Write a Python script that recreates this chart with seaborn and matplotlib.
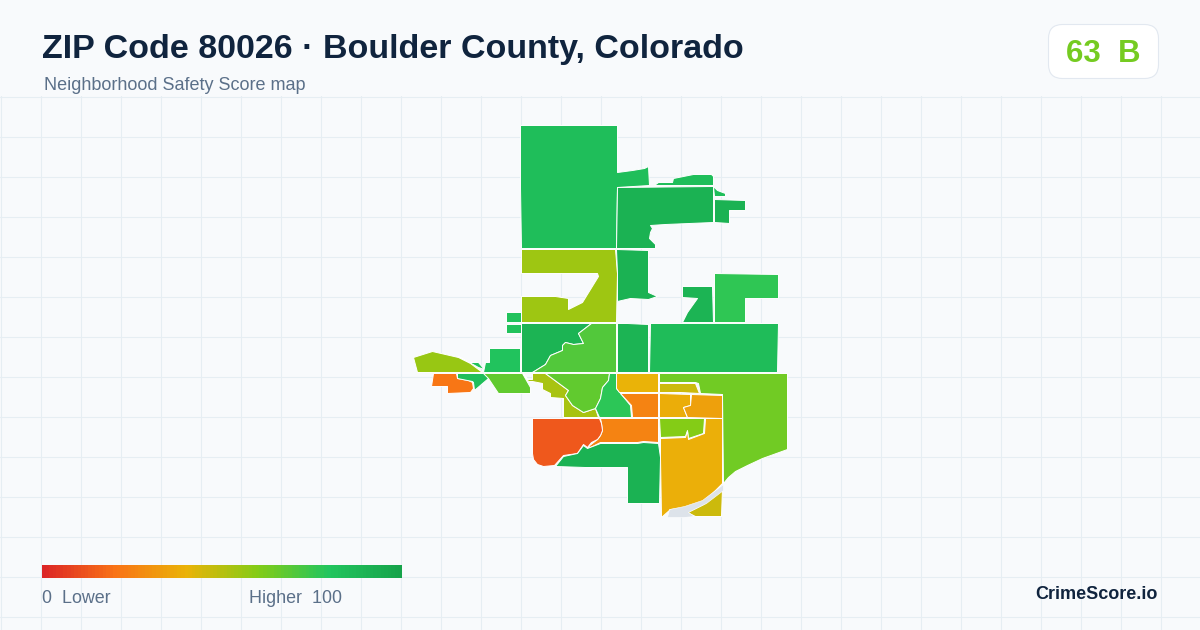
import matplotlib
matplotlib.use('Agg')
import matplotlib.pyplot as plt
import numpy as np
import pandas as pd
import seaborn as sns
from matplotlib.colors import LinearSegmentedColormap, Normalize
from matplotlib.patches import FancyBboxPatch

# scale and labels
scale_stops = [0, 20, 40, 60, 80, 100]
scale_colors = ['#dc2626', '#f97316', '#eab308', '#84cc16', '#22c55e', '#16a34a']
title = 'ZIP Code 80026 · Boulder County, Colorado'
subtitle = 'Neighborhood Safety Score map'
overall_score = 63
overall_grade = 'B'

# tract outlines (map units), one list per tract part
north_big = [(520, 125), (617, 125), (617, 172), (632, 170), (644, 168), (648, 166), (649, 185), (617, 187), (616, 248), (521, 248), (520, 187)]
north_big_b = [(654, 185), (658, 182), (672, 182), (673, 178), (693, 174), (711, 174), (713, 176), (713, 185)]
north_big_c = [(713, 186), (717, 190), (725, 193), (725, 196), (714, 196)]
north_east = [(617, 187), (713, 186), (713, 222), (665, 224), (650, 225), (652, 228), (650, 232), (649, 238), (655, 244), (655, 248), (616, 248)]
north_east_b = [(714, 199), (745, 200), (745, 210), (729, 210), (729, 223), (714, 222)]
mid_west = [(521, 249), (615, 249), (617, 273), (616, 322), (521, 322), (521, 296), (555, 296), (568, 298), (568, 309), (582, 302), (598, 276), (597, 273), (521, 273)]
mid_strip = [(616, 249), (648, 250), (648, 292), (657, 296), (648, 299), (630, 298), (617, 301), (617, 273)]
mid_east = [(714, 273), (778, 274), (778, 298), (745, 298), (745, 322), (714, 322)]
mid_hook = [(682, 286), (712, 286), (713, 322), (682, 322), (687, 312), (697, 298), (682, 297)]
west_small = [(505, 311), (520, 311), (520, 321), (505, 321)]
west_small_b = [(505, 323), (520, 323), (520, 332), (505, 332)]
central_dark = [(521, 323), (591, 323), (578, 333), (583, 343), (573, 344), (565, 342), (562, 345), (562, 350), (550, 355), (545, 364), (532, 372), (521, 372)]
central_lime = [(591, 323), (616, 323), (616, 372), (532, 372), (545, 364), (550, 355), (562, 350), (562, 345), (565, 342), (573, 344), (583, 343), (578, 333)]
central_strip = [(617, 323), (627, 323), (648, 324), (648, 372), (617, 372)]
central_east = [(650, 323), (778, 323), (777, 372), (649, 372)]
far_west = [(413, 357), (432, 351), (445, 354), (458, 357), (470, 363), (482, 372), (417, 372)]
far_west_teal = [(458, 356), (468, 362), (478, 362), (484, 369), (478, 367)]
west_block = [(489, 348), (520, 348), (520, 372), (483, 372), (485, 362), (489, 362)]
far_west_orange = [(433, 373), (456, 373), (457, 378), (468, 380), (472, 382), (473, 388), (470, 392), (447, 393), (447, 386), (431, 386)]
west_teal = [(457, 373), (486, 373), (488, 378), (474, 390), (473, 382), (472, 381), (457, 378)]
west_lime = [(483, 373), (522, 373), (530, 387), (530, 393), (498, 393), (488, 378)]
olive_strip = [(523, 373), (527, 379), (532, 379), (532, 373), (545, 373), (568, 390), (565, 395), (572, 405), (583, 412), (595, 408), (598, 417), (563, 417), (563, 398), (550, 397), (550, 393), (542, 389), (542, 383), (532, 381), (528, 381)]
south_lime = [(545, 373), (609, 373), (608, 380), (602, 387), (600, 398), (595, 408), (583, 412), (572, 405), (565, 395), (568, 390)]
south_green = [(609, 373), (616, 373), (616, 388), (630, 405), (631, 417), (599, 417), (595, 408), (600, 398), (602, 387), (608, 380)]
amber_north = [(616, 373), (658, 373), (658, 392), (619, 392), (616, 388)]
orange_north = [(620, 393), (658, 393), (658, 417), (632, 417), (631, 405)]
east_big = [(659, 373), (787, 373), (787, 449), (762, 458), (747, 465), (735, 471), (728, 477), (723, 483), (722, 394), (700, 393), (698, 383), (695, 382), (659, 382)]
olive_north = [(659, 383), (695, 383), (699, 393), (680, 392), (659, 392)]
amber_mid = [(659, 393), (690, 394), (690, 405), (683, 407), (687, 417), (659, 417)]
amber_east = [(691, 394), (722, 395), (722, 418), (687, 417), (683, 407), (690, 405)]
orange_south = [(600, 418), (658, 418), (658, 442), (643, 441), (637, 442), (623, 442), (610, 442), (600, 442), (590, 447), (588, 446), (597, 439), (600, 435), (602, 430), (601, 423)]
red_south = [(532, 418), (599, 418), (601, 423), (602, 430), (600, 435), (597, 439), (591, 442), (587, 447), (583, 444), (577, 453), (563, 455), (554, 465), (543, 466), (537, 464), (533, 459), (532, 453)]
south_dark = [(555, 466), (563, 456), (577, 453), (583, 445), (587, 448), (600, 443), (610, 443), (623, 443), (637, 443), (643, 442), (658, 443), (660, 457), (659, 503), (627, 503), (627, 467), (585, 467)]
lime_south = [(659, 418), (704, 418), (703, 433), (688, 438), (687, 430), (685, 436), (660, 437)]
amber_south = [(660, 438), (685, 437), (687, 431), (688, 439), (704, 433), (705, 418), (722, 418), (722, 483), (703, 502), (685, 508), (670, 509), (661, 517), (660, 457)]
olive_south = [(722, 488), (721, 516), (695, 516), (687, 512), (703, 504)]
water = [(723, 484), (723, 490), (706, 503), (692, 510), (688, 512), (694, 516), (683, 517), (667, 517), (669, 509), (684, 506), (702, 500)]

tract_shapes = [north_big, north_big_b, north_big_c, north_east, north_east_b, mid_west, mid_strip, mid_east,
                mid_hook, west_small, west_small_b, central_dark, central_lime, central_strip, central_east,
                far_west_teal, far_west, west_block, far_west_orange, west_teal, west_lime, olive_strip, south_lime,
                south_green, amber_north, orange_north, east_big, olive_north, amber_mid, amber_east,
                orange_south, red_south, south_dark, lime_south, amber_south, olive_south]
tract_scores = [84, 84, 84, 91, 91, 55, 91, 77, 90, 82, 82, 90, 70, 90, 85,
                82, 56, 81, 21, 84, 67, 53, 67, 78, 40, 25, 64, 46, 38, 34,
                25, 13, 91, 60, 39, 46]

sns.set_theme(style='whitegrid', rc={'axes.facecolor': '#f8fafc', 'figure.facecolor': '#f8fafc',
                                     'grid.color': '#e6eef3', 'grid.linewidth': 0.75})
plt.rcParams['font.family'] = ['Liberation Sans', 'DejaVu Sans']

cmap = LinearSegmentedColormap.from_list('safety', [(s / 100, c) for s, c in zip(scale_stops, scale_colors)])
norm = Normalize(0, 100)

fig = plt.figure(figsize=(12, 6.3), dpi=100)

# map area, grid only below the header
ax = fig.add_axes([0, 0, 1, 534 / 630])
ax.set_xlim(-0.5, 1199.5)
ax.set_ylim(629.5, 95.5)
ax.set_xticks(np.arange(0, 1200, 40))
ax.set_yticks(np.arange(96, 630, 40))
ax.tick_params(length=0, labelbottom=False, labelleft=False)
for s in ax.spines.values():
    s.set_visible(False)
ax.set_axisbelow(True)

for shape, score in zip(tract_shapes, tract_scores):
    xs, ys = zip(*shape)
    ax.fill(xs, ys, facecolor=cmap(norm(score)), edgecolor='white', linewidth=0.7, joinstyle='round')
xs, ys = zip(*water)
ax.fill(xs, ys, facecolor='#dde3ea', edgecolor='white', linewidth=0.4)

# header
fig.text(42 / 1200, 1 - 49.5 / 630, title, fontsize=24.5, fontweight='bold', color='#10243e', va='center')
fig.text(44 / 1200, 1 - 86 / 630, subtitle, fontsize=12.95, color='#5b7089', va='center')

overlay = fig.add_axes([0, 0, 1, 1], facecolor='none')
overlay.set_xlim(0, 1200)
overlay.set_ylim(630, 0)
overlay.axis('off')
overlay.add_patch(FancyBboxPatch((1048.5, 24.5), 110, 54, boxstyle='round,pad=0,rounding_size=14',
                                 facecolor='white', edgecolor='#e2e8f0', linewidth=0.8))
overlay.text(1103, 53.5, f'{overall_score}  {overall_grade}', fontsize=22.5, fontweight='bold',
             color=cmap(norm(overall_score)), ha='center', va='center')

# legend gradient
legend_ax = fig.add_axes([42 / 1200, 1 - 578 / 630, 360 / 1200, 13 / 630])
gradient = pd.DataFrame([list(range(0, 101))])
sns.heatmap(gradient, ax=legend_ax, cmap=cmap, vmin=0, vmax=100, cbar=False, xticklabels=False, yticklabels=False)

overlay.text(42, 598.4, '0  Lower', fontsize=12.9, color='#5b7089', va='center')
overlay.text(249, 598.4, 'Higher  100', fontsize=12.9, color='#5b7089', va='center')
overlay.text(1158, 594.4, 'CrimeScore.io', fontsize=13, fontweight='bold', color='#10243e', ha='right', va='center')

fig.savefig('out.png', dpi=100, facecolor=fig.get_facecolor())
